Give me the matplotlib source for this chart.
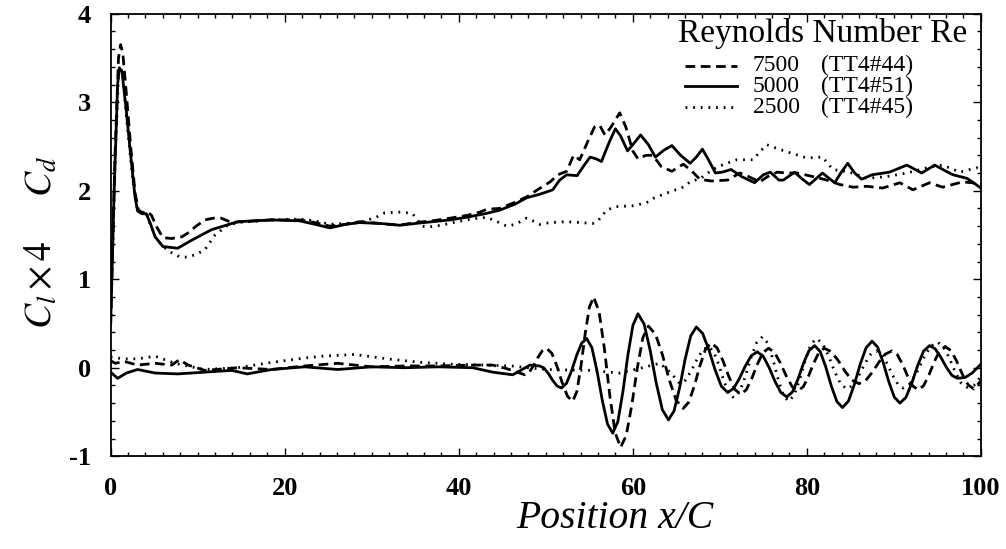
import matplotlib
matplotlib.use("Agg")
import matplotlib.pyplot as plt
from matplotlib.ticker import MultipleLocator

plt.rcParams['font.family'] = ['Liberation Serif', 'DejaVu Serif']
plt.rcParams['mathtext.fontset'] = 'stix'
plt.rcParams['lines.scale_dashes'] = False
plt.rcParams['axes.unicode_minus'] = False

# ---- drag coefficient Cd (upper curves) ----
cd_x_7500 = [0, 0.5, 0.9, 1.15, 1.4, 1.8, 2.3, 2.8, 3.2, 3.7, 4.2, 4.7, 5.3, 6.0, 7.0, 8.2, 9.0, 9.7,
             10.8, 11.8, 12.7, 13.9, 15, 18.5, 21.7, 23.5, 25.2, 27, 28.6, 31, 33.2, 35, 37.0, 39, 40.9,
             42.5, 43.2, 44.7, 46.5, 47.8, 49.2, 50.5, 51.4, 52.4, 53.2, 53.9, 54.8, 55.6, 56.2, 56.8,
             57.5, 58.5, 59.2, 60.0, 60.6, 61.5, 62.3, 63.3, 64.5, 65.8, 66.8, 67.7, 69, 70.9, 72.3,
             73.3, 74.6, 75.5, 76.6, 77.7, 78.9, 80.7, 82.3, 83.8, 85.3, 86.9, 88.7, 90.7, 92.2, 94.1,
             95.6, 97.9, 99.0, 100]
cd_y_7500 = [0.5, 2.4, 3.5, 3.65, 3.55, 3.1, 2.5, 1.98, 1.78, 1.75, 1.77, 1.72, 1.59, 1.47, 1.46, 1.48,
             1.53, 1.59, 1.67, 1.69, 1.69, 1.64, 1.65, 1.67, 1.67, 1.64, 1.60, 1.62, 1.65, 1.63, 1.61,
             1.64, 1.66, 1.69, 1.72, 1.76, 1.79, 1.80, 1.87, 1.93, 2.02, 2.10, 2.18, 2.22, 2.40, 2.35,
             2.55, 2.72, 2.74, 2.63, 2.72, 2.88, 2.72, 2.45, 2.36, 2.40, 2.40, 2.27, 2.22, 2.30, 2.22,
             2.13, 2.11, 2.12, 2.20, 2.16, 2.10, 2.16, 2.21, 2.20, 2.20, 2.16, 2.12, 2.07, 2.04, 2.05,
             2.03, 2.09, 2.01, 2.09, 2.04, 2.10, 2.09, 2.07]

cd_x_5000 = [0, 0.4, 0.8, 1.0, 1.3, 1.8, 2.3, 2.8, 3.1, 3.6, 4.1, 4.6, 5.1, 6.0, 7.7, 9.3, 11.6, 14.6,
             18.5, 21.7, 23.5, 25.2, 27, 28.6, 31, 33.2, 35, 37.0, 39, 40.9, 43, 44.7, 46.5, 47.8, 49.3,
             50.8, 51.6, 52.4, 53.6, 54.5, 55.1, 55.8, 56.4, 57.3, 58.0, 58.6, 59.4, 60.0, 60.9, 61.8,
             62.6, 63.6, 64.5, 65.5, 66.6, 67.3, 68.0, 68.7, 69.5, 70.3, 71.3, 72.5, 74, 75.0, 75.8,
             76.8, 77.3, 78.6, 79.5, 80.3, 81.8, 83.2, 83.9, 84.7, 85.5, 86.3, 87.5, 89.5, 91.5, 93.2,
             94.7, 96.0, 96.8, 98.4, 99.3, 100]
cd_y_5000 = [0.5, 2.0, 3.2, 3.39, 3.35, 2.9, 2.4, 1.93, 1.77, 1.74, 1.74, 1.62, 1.48, 1.37, 1.35, 1.44,
             1.56, 1.65, 1.67, 1.66, 1.62, 1.58, 1.62, 1.64, 1.63, 1.61, 1.63, 1.65, 1.67, 1.70, 1.74,
             1.78, 1.85, 1.92, 1.96, 2.01, 2.12, 2.18, 2.17, 2.30, 2.38, 2.36, 2.33, 2.55, 2.70, 2.62,
             2.45, 2.52, 2.63, 2.52, 2.38, 2.46, 2.51, 2.40, 2.31, 2.38, 2.47, 2.35, 2.20, 2.21, 2.24,
             2.16, 2.09, 2.18, 2.21, 2.12, 2.12, 2.21, 2.13, 2.07, 2.20, 2.09, 2.20, 2.31, 2.20, 2.13,
             2.18, 2.21, 2.29, 2.20, 2.29, 2.22, 2.18, 2.14, 2.08, 2.03]

cd_x_2500 = [0, 0.5, 0.9, 1.1, 1.4, 1.8, 2.3, 2.8, 3.1, 4.1, 5.1, 6.0, 7.0, 8.0, 8.9, 9.8, 10.8, 12.0,
             13.3, 14.6, 18.5, 21.7, 23.5, 25.2, 27, 28.6, 30.5, 31.5, 33.5, 34.7, 35.8, 36.5, 38, 39.8,
             41.5, 43.2, 44.2, 45.5, 46.5, 47.8, 48.5, 49.3, 50.5, 52.4, 54, 55.4, 56, 57, 58, 60, 61.5,
             62.5, 64.6, 65.6, 66.6, 67.8, 69.2, 70.5, 72, 73.8, 74.7, 75.4, 76.5, 77.7, 80, 81.8, 83,
             84.9, 86.9, 89.2, 91.5, 93.8, 95.6, 97.6, 99.5, 100]
cd_y_2500 = [0.5, 2.3, 3.3, 3.4, 3.3, 2.85, 2.35, 1.93, 1.77, 1.74, 1.48, 1.37, 1.30, 1.25, 1.25, 1.28,
             1.33, 1.50, 1.60, 1.64, 1.67, 1.68, 1.66, 1.62, 1.63, 1.64, 1.70, 1.75, 1.76, 1.74, 1.60,
             1.59, 1.61, 1.65, 1.68, 1.70, 1.66, 1.60, 1.62, 1.69, 1.66, 1.62, 1.64, 1.65, 1.64, 1.63,
             1.66, 1.78, 1.82, 1.83, 1.86, 1.92, 2.00, 2.03, 2.10, 2.14, 2.24, 2.30, 2.35, 2.35, 2.45,
             2.52, 2.48, 2.44, 2.37, 2.38, 2.24, 2.21, 2.14, 2.16, 2.20, 2.26, 2.29, 2.21, 2.26, 2.24]

# ---- lift coefficient Cl x 4 (lower curves) ----
cl_x_7500 = [0, 0.5, 1.6, 3.1, 5.1, 7.0, 7.9, 8.9, 10.8, 14.6, 18.5, 22.3, 26.1, 28, 30, 33.8, 37.6,
             41.6, 43.9, 45.5, 47.6, 48.1, 48.6, 49.1, 49.6, 50.1, 50.7, 51.3, 51.9, 52.5, 53.1, 53.58,
             54.06, 54.54, 55.02, 55.26, 55.5, 55.81, 56.12, 56.74, 57.36, 57.98, 58.29, 58.6, 58.92,
             59.24, 59.88, 60.52, 61.16, 61.48, 61.8, 62.2, 62.6, 63.4, 64.2, 65.0, 65.4, 65.8, 66.12,
             66.44, 67.08, 67.72, 68.36, 69.0, 69.68, 70.36, 71.04,
             71.72, 72.4, 73.04, 73.68, 74.32, 74.96, 75.6, 76.28, 76.96, 77.64, 78.32, 79.0, 79.6,
             80.2, 80.8, 81.4, 82.0, 82.8, 83.6, 84.4, 85.2, 86.0, 86.76, 87.52, 88.28, 89.04, 89.8,
             90.4, 91.0, 91.6, 92.2, 92.8, 93.42, 94.04, 94.66, 95.28, 95.9, 96.56, 97.22, 97.88, 98.54,
             99.2, 100]
cl_y_7500 = [0.08, 0.05, 0.07, 0.03, 0.05, 0.03, 0.09, 0.03, -0.03, 0.0, -0.02, 0.02, 0.05, 0.03, 0.01,
             0.02, 0.02, 0.03, 0.03, -0.01, -0.08, -0.051, 0.024, 0.116, 0.191, 0.22, 0.163, 0.013,
             -0.173, -0.323, -0.38, -0.267, 0.028, 0.392, 0.687, 0.742, 0.80, 0.717, 0.638, 0.213,
             -0.313, -0.738, -0.817, -0.90, -0.833, -0.769, -0.427, -0.003, 0.339, 0.403, 0.47, 0.424,
             0.381, 0.149, -0.139, -0.371, -0.414, -0.46, -0.424, -0.389,
             -0.204, 0.024, 0.209, 0.28, 0.225, 0.08, -0.10, -0.245, -0.30, -0.25, -0.12, 0.04, 0.17,
             0.22, 0.174, 0.054, -0.094, -0.214, -0.26, -0.214, -0.094, 0.054, 0.174, 0.22, 0.182,
             0.082, -0.042, -0.142, -0.18, -0.145, -0.052, 0.062, 0.155, 0.19, 0.148, 0.038, -0.098,
             -0.208, -0.25, -0.203, -0.081, 0.071, 0.193, 0.24, 0.194, 0.074, -0.074, -0.194, -0.24,
             -0.15]

cl_x_5000 = [0, 0.8, 1.8, 3.1, 5.1, 7.7, 10.8, 13.9, 15.7, 18.5, 22.3, 26.1, 30, 33.8, 37.6, 41.6, 43.9,
             46.2, 48.2, 49.3, 49.8, 50.3, 50.8, 51.3, 51.8, 52.38, 52.96, 53.54,
             54.12, 54.41, 54.7, 55.0, 55.3, 55.9, 56.5, 57.1, 57.4, 57.7, 57.99, 58.28, 58.86, 59.44,
             60.02, 60.31, 60.6, 60.95, 61.3, 62.0, 62.7, 63.4, 63.75, 64.1, 64.42, 64.74, 65.38, 66.02,
             66.66, 66.98, 67.3, 67.66, 68.02, 68.74, 69.46, 70.18, 70.54, 70.9, 71.24, 71.58, 72.26,
             72.94, 73.62, 73.96, 74.3, 74.64, 74.98, 75.66, 76.34, 77.02, 77.36, 77.7, 78.02, 78.34,
             78.98, 79.62, 80.26, 80.58, 80.9, 81.22, 81.54, 82.18, 82.82, 83.46, 83.78, 84.1, 84.44,
             84.78, 85.46, 86.14, 86.82, 87.16, 87.5, 87.82, 88.14, 88.78, 89.42, 90.06, 90.38, 90.7,
             91.04, 91.38, 92.06, 92.74, 93.42, 93.76, 94.1, 94.42, 94.74, 95.38, 96.02, 96.66, 97.3,
             98.2, 99.0, 100]
cl_y_5000 = [-0.05, -0.12, -0.06, -0.02, -0.06, -0.07, -0.05, -0.03, -0.07, -0.02, 0.01, -0.02, 0.01,
             0.0, 0.01, 0.0, -0.05, -0.08, 0.03, 0.02, -0.004, -0.066, -0.144, -0.206, -0.23, -0.177,
             -0.037, 0.137,
             0.277, 0.303, 0.33, 0.278, 0.228, -0.04, -0.37, -0.638, -0.688, -0.74, -0.674, -0.611,
             -0.274, 0.144, 0.481, 0.544, 0.61, 0.551, 0.495, 0.195, -0.175, -0.475, -0.531, -0.59,
             -0.539, -0.49, -0.227, 0.097, 0.36, 0.409, 0.46, 0.424, 0.389, 0.204, -0.024, -0.209,
             -0.244, -0.28, -0.257, -0.236, -0.121, 0.021, 0.136, 0.157, 0.18, 0.155, 0.131, 0.004,
             -0.154, -0.281, -0.305, -0.33, -0.302, -0.275, -0.13, 0.05, 0.195, 0.222, 0.25, 0.216,
             0.183, 0.008, -0.208, -0.383, -0.416, -0.45, -0.413, -0.378, -0.191, 0.041, 0.228, 0.263,
             0.30, 0.266, 0.233, 0.058, -0.158, -0.333, -0.366, -0.40, -0.368, -0.338, -0.175, 0.025,
             0.188, 0.218, 0.25, 0.232, 0.215, 0.122, 0.008, -0.085, -0.12, -0.11, -0.06, 0.04]

cl_x_2500 = [0, 1.5, 3.1, 5.1, 7.4, 9.3, 10.8, 14.6, 18.5, 22.3, 24.3, 28, 31.8, 35.7, 39.2, 43, 46, 48,
             50, 55, 58.5, 61.1, 63.1, 64.4, 65.4, 66.06, 66.72, 67.38, 68.04, 68.7, 69.28, 69.86,
             70.44, 71.02, 71.6, 72.26, 72.92, 73.58, 74.24, 74.9, 75.5, 76.1, 76.7, 77.3, 77.9, 78.54,
             79.18, 79.82, 80.46, 81.1, 81.8, 82.5, 83.2, 83.9, 84.6, 85.28, 85.96, 86.64, 87.32, 88.0,
             88.62, 89.24, 89.86, 90.48, 91.1, 91.88, 92.66, 93.44, 94.22, 95.0, 95.68, 96.36, 97.04,
             97.72, 98.4, 99.2, 100]
cl_y_2500 = [0.12, 0.10, 0.10, 0.13, 0.05, 0.01, -0.02, 0.0, 0.06, 0.11, 0.13, 0.15, 0.10, 0.06, 0.04,
             0.03, 0.02, 0.0, -0.02, -0.03, -0.06, 0.0, 0.05, -0.06, -0.18, -0.14, -0.035, 0.095, 0.20,
             0.24, 0.185, 0.04, -0.14, -0.285, -0.34, -0.274, -0.102, 0.112, 0.284, 0.35, 0.28, 0.098,
             -0.128, -0.31, -0.38, -0.312, -0.135, 0.085, 0.262, 0.33, 0.276, 0.133, -0.043, -0.186,
             -0.24, -0.199, -0.091, 0.041, 0.149, 0.19, 0.15, 0.045, -0.085, -0.19, -0.23, -0.18, -0.05,
             0.11, 0.24, 0.29, 0.241, 0.114, -0.044, -0.171, -0.22, -0.2, -0.1]

reynolds = ['7500', '5000', '2500']
runs = ['(TT4#44)', '(TT4#51)', '(TT4#45)']

x_ticks = [0, 20, 40, 60, 80, 100]
y_ticks = [-1, 0, 1, 2, 3, 4]

dashed = (0, (7, 4))
dotted = (0, (1.3, 4.2))
styles = [dashed, '-', dotted]

fig = plt.figure(figsize=(10.06, 5.49), dpi=100)
ax = fig.add_axes([0.110, 0.169, 0.865, 0.806])

cd_series = [(cd_x_7500, cd_y_7500), (cd_x_5000, cd_y_5000), (cd_x_2500, cd_y_2500)]
cl_series = [(cl_x_7500, cl_y_7500), (cl_x_5000, cl_y_5000), (cl_x_2500, cl_y_2500)]
for (x, y), ls in zip(cd_series, styles):
    ax.plot(x, y, color='black', lw=2.0, linestyle=ls, solid_joinstyle='round')
for (x, y), ls in zip(cl_series, styles):
    ax.plot(x, y, color='black', lw=2.0, linestyle=ls, solid_joinstyle='round')

ax.set_xlim(0, 100)
ax.set_ylim(-1, 4)
ax.set_xticks(x_ticks)
ax.set_yticks(y_ticks)
ax.xaxis.set_minor_locator(MultipleLocator(2))
ax.yaxis.set_minor_locator(MultipleLocator(0.2))
ax.tick_params(which='both', direction='in', top=True, right=True, width=1.0)
ax.tick_params(which='major', length=6)
ax.tick_params(which='minor', length=3)
ax.tick_params(axis='x', which='major', pad=15)
ax.tick_params(axis='y', which='major', pad=14)
for lab in ax.get_xticklabels() + ax.get_yticklabels():
    lab.set_fontsize(19)
    lab.set_fontweight('bold')
for s in ax.spines.values():
    s.set_linewidth(1.3)

ax.set_xlabel('Position x/C', fontsize=28.5, fontstyle='italic')
ax.xaxis.set_label_coords(0.579, -0.10)
ax.set_ylabel(r'$C_l \times 4\ \ \ \ \ C_d$', fontsize=27)
ax.yaxis.set_label_coords(-0.058, 0.484)

# legend block, laid out by hand like the original
ax.text(0.818, 0.955, 'Reynolds Number Re', transform=ax.transAxes, ha='center', va='center',
        fontsize=24)
row_y = [0.882, 0.836, 0.789]
for re, run, ls, yy in zip(reynolds, runs, styles, row_y):
    ax.plot([0.660, 0.7195], [yy, yy], transform=ax.transAxes, color='black', lw=2.0, linestyle=ls)
    ax.text(0.738, yy, re, transform=ax.transAxes, ha='left', va='center', fontsize=17)
    ax.text(0.816, yy, run, transform=ax.transAxes, ha='left', va='center', fontsize=17)

fig.savefig('out.png', dpi=100)
